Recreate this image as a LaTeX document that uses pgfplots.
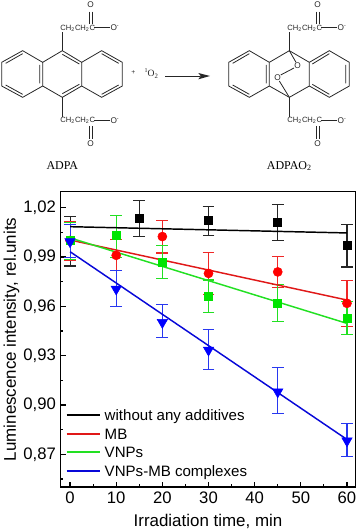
\documentclass[border=0pt]{standalone}
\usepackage{pgfplots}
\pgfplotsset{compat=1.18}
\usepackage{fontspec}
\setmainfont{Liberation Sans}
\newfontfamily\timesf{Liberation Serif}
\definecolor{lred}{HTML}{E01818}
\definecolor{lgreen}{HTML}{22E022}
\definecolor{lblue}{HTML}{0808D8}
\definecolor{eblue}{HTML}{2838F0}
\definecolor{ered}{HTML}{F02828}
\pgfplotsset{ebar/.style={error bars/.cd,y dir=both,y explicit,
  error bar style={line width=0.8pt,draw=#1},
  error mark options={rotate=90,mark size=4.4pt,line width=0.8pt,draw=#1,fill=#1}}}
\begin{document}
\begin{tikzpicture}
\path[use as bounding box] (0,0) rectangle (268.5pt,-398.25pt);
% ---- reaction scheme, in units of 1/3 reference pixel
\begin{scope}[x=0.25pt,y=-0.25pt,line width=0.6pt,color=black!85]
\newcommand{\subst}[1]{%
  \begin{scope}[xshift=#1*0.25pt]
    \draw (187,152)--(187,97);
    \node[font=\fontsize{5.7pt}{6pt}\selectfont,anchor=west,inner sep=0pt] at (180,85) {CH\textsubscript{2}CH\textsubscript{2}C};
    \draw (283,83)--(330,83);
    \node[font=\fontsize{6.2pt}{6pt}\selectfont,inner sep=0pt] at (344,83) {O\raisebox{2pt}{\fontsize{4pt}{4pt}\selectfont -}};
    \draw (269,35)--(269,72) (277,35)--(277,72);
    \node[font=\fontsize{6.2pt}{6pt}\selectfont,inner sep=0pt] at (272,13) {O};
    \draw (187,292)--(187,350);
    \node[font=\fontsize{5.7pt}{6pt}\selectfont,anchor=west,inner sep=0pt] at (180,362) {CH\textsubscript{2}CH\textsubscript{2}C};
    \draw (283,360)--(330,360);
    \node[font=\fontsize{6.2pt}{6pt}\selectfont,inner sep=0pt] at (344,361) {O\raisebox{2pt}{\fontsize{4pt}{4pt}\selectfont -}};
    \draw (269,378)--(269,418) (277,378)--(277,418);
    \node[font=\fontsize{6.2pt}{6pt}\selectfont,inner sep=0pt] at (272,430) {O};
  \end{scope}}
% ADPA
\draw (128,187)--(68,152)--(5,187)--(5,258)--(68,292)--(128,258)--cycle;
\draw (128,187)--(187,152)--(245,187)--(245,258)--(187,292)--(128,258);
\draw (245,187)--(305,152)--(367,187)--(367,258)--(305,292)--(245,258);
\draw (17,190)--(68,161) (17,255)--(68,283) (119,195)--(119,250);
\draw (187,163)--(238,192) (187,281)--(238,253);
\draw (305,161)--(356,190) (305,283)--(356,255);
\subst{0}
% ADPAO2
\draw (808,187)--(748,152)--(686,187)--(686,258)--(748,292)--(808,258)--cycle;
\draw (808,187)--(868,152)--(928,187)--(928,258)--(868,292)--(808,258);
\draw (928,187)--(988,152)--(1048,187)--(1048,258)--(988,292)--(928,258);
\draw (698,190)--(748,161) (698,255)--(748,283) (799,195)--(799,250);
\draw (937,192)--(988,161) (937,253)--(988,283) (1037,195)--(1037,250);
\draw (868,152)--(888,187) (882,204)--(842,225) (838,243)--(868,292);
\node[font=\fontsize{6.2pt}{6pt}\selectfont,inner sep=0pt] at (893,197) {O};
\node[font=\fontsize{6.2pt}{6pt}\selectfont,inner sep=0pt] at (833,232) {O};
\subst{681}
% arrow
\node[font=\fontsize{5pt}{6pt}\selectfont,inner sep=0pt] at (400,217) {+};
\node[font=\timesf\fontsize{7.2pt}{8pt}\selectfont,inner sep=0pt] at (455,221) {\raisebox{3pt}{\fontsize{4.5pt}{5pt}\selectfont 1}O\textsubscript{2}};
\draw (495,228)--(600,228);
\fill (595,219)--(630,228)--(595,238)--(602,228)--cycle;
\node[font=\timesf\fontsize{9pt}{10pt}\selectfont,inner sep=0pt,color=black] at (187,497) {ADPA};
\node[font=\timesf\fontsize{9pt}{10pt}\selectfont,inner sep=0pt,color=black] at (868,499) {ADPAO\textsubscript{2}};
\end{scope}
% ---- plot
\begin{axis}[
  at={(45.4pt,-365.25pt)}, anchor=south west,
  scale only axis, width=221.2pt, height=221.5pt,
  xmin=-2.06, xmax=61.84, ymin=0.8501, ymax=1.0297,
  axis line style={line width=1.1pt},
  tick pos=left, tick align=inside,
  major tick length=4pt, minor tick length=2.2pt,
  every tick/.style={line width=0.9pt,black},
  xtick={0,10,...,60}, minor xtick={5,15,...,55},
  ytick={0.87,0.90,0.93,0.96,0.99,1.02}, minor ytick={0.855,0.885,0.915,0.945,0.975,1.005},
  y tick label style={/pgf/number format/.cd,fixed,fixed zerofill,precision=2,use comma,assume math mode=true},
  x tick label style={/pgf/number format/assume math mode=true},
  tick label style={font=\fontsize{12.5pt}{14pt}\selectfont},
  xlabel={Irradiation time, min}, ylabel={Luminescence intensity, rel.units},
  every axis x label/.style={at={(axis description cs:0.5,-0.134)},anchor=base,font=\fontsize{12.7pt}{14pt}\selectfont},
  every axis y label/.style={at={(axis description cs:-0.151,0.5)},anchor=base,rotate=90,font=\fontsize{12.7pt}{14pt}\selectfont},
]
% points with error bars
\addplot[only marks,black,mark=square*,mark size=3pt,ebar=black!85] table[x=x,y=y,y error plus=p,y error minus=m] {
x y p m
0 1.0000 0.0145 0.0155
15 1.0133 0.0110 0.0110
30 1.0121 0.0087 0.0091
45 1.0109 0.0109 0.0110
60 0.9971 0.0126 0.0132
};
\addplot[only marks,red,mark=*,mark size=3.4pt,ebar=ered] table[x=x,y=y,y error plus=p,y error minus=m] {
x y p m
0 1.0000 0.0117 0.0124
10 0.9910 0.0098 0.0095
20 1.0024 0.0097 0.0100
30 0.9800 0.0126 0.0131
45 0.9809 0.0093 0.0092
60 0.9618 0.0140 0.0140
};
\addplot[only marks,green!90!black,mark=square*,mark size=3pt,ebar=lgreen] table[x=x,y=y,y error plus=p,y error minus=m] {
x y p m
0 1.0000 0.0109 0.0118
10 1.0030 0.0121 0.0136
20 0.9865 0.0102 0.0095
30 0.9658 0.0102 0.0095
45 0.9620 0.0115 0.0112
60 0.9529 0.0099 0.0100
};
\addplot[only marks,blue,mark=triangle*,mark options={rotate=180},mark size=4.5pt,ebar=eblue] table[x=x,y=y,y error plus=p,y error minus=m] {
x y p m
0 0.9993 0.0102 0.0098
10 0.9705 0.0110 0.0107
20 0.9502 0.0108 0.0093
30 0.9334 0.0124 0.0116
45 0.9080 0.0149 0.0131
60 0.8782 0.0108 0.0095
};
% fitted lines
\addplot[black,line width=1.1pt] coordinates {(0,1.0084) (60,1.0046)};
\addplot[lred,line width=1.1pt] coordinates {(0,1.0003) (60,0.9638)};
\addplot[lgreen,line width=1.1pt] coordinates {(0,1.0016) (60,0.9496)};
\addplot[lblue,line width=1.1pt] coordinates {(0,0.9932) (60,0.8790)};
% legend
\draw[black,line width=1.3pt] (axis description cs:0.021,0.2438)--(axis description cs:0.134,0.2438);
\draw[lred,line width=1.3pt] (axis description cs:0.021,0.1805)--(axis description cs:0.134,0.1805);
\draw[lgreen,line width=1.3pt] (axis description cs:0.021,0.1185)--(axis description cs:0.134,0.1185);
\draw[lblue,line width=1.3pt] (axis description cs:0.021,0.0552)--(axis description cs:0.134,0.0552);
\tikzset{lgt/.style={anchor=base west,inner sep=0pt,yshift=-4pt,font=\fontsize{11.3pt}{13pt}\selectfont}}
\node[lgt] at (axis description cs:0.149,0.2438) {without any additives};
\node[lgt] at (axis description cs:0.149,0.1805) {MB};
\node[lgt] at (axis description cs:0.149,0.1185) {VNPs};
\node[lgt] at (axis description cs:0.149,0.0552) {VNPs-MB complexes};
\end{axis}
\end{tikzpicture}
\end{document}
